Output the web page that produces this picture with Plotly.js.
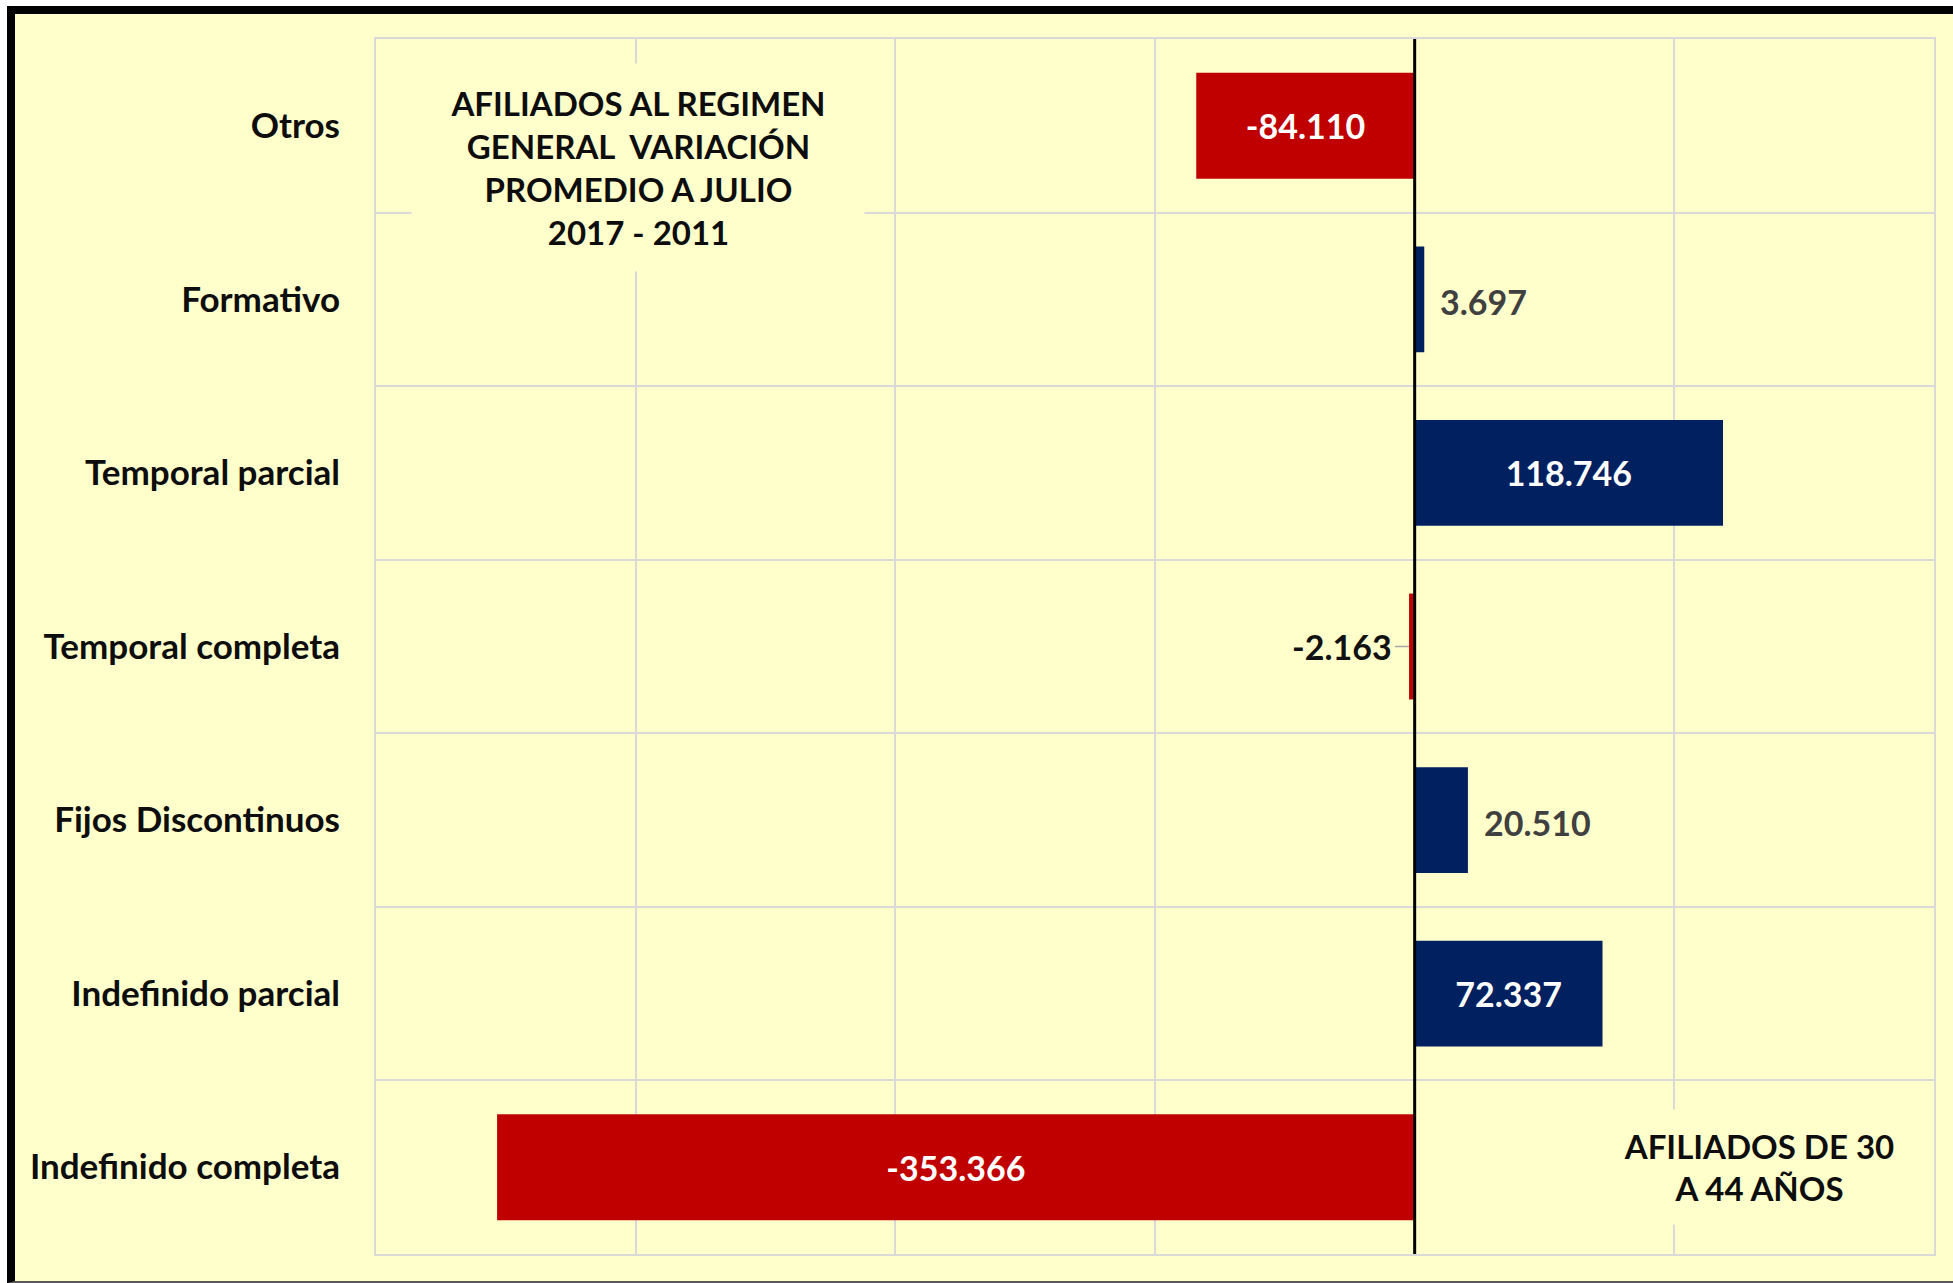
<!DOCTYPE html>
<html>
<head>
<meta charset="utf-8">
<script src="https://cdn.plot.ly/plotly-3.0.1.min.js"></script>
<style>
  html, body { margin:0; padding:0; width:1953px; height:1283px; background:#ffffff; overflow:hidden; }
  #frame { position:absolute; left:7px; top:6px; width:1946px; height:1277px; box-sizing:border-box;
           border-left:8px solid #000; border-top:8px solid #000; border-bottom:2px solid #595959; background:#FFFFCC; }
  #chart { position:absolute; left:0; top:0; width:1953px; height:1283px; }
</style>
</head>
<body>
<div id="frame"></div>
<div id="chart"></div>
<script>
// Categories (bottom to top)
const categories = ['Indefinido completa', 'Indefinido parcial', 'Fijos Discontinuos', 'Temporal completa', 'Temporal parcial', 'Formativo', 'Otros'];
// Variation values
const values = [-353366, 72337, 20510, -2163, 118746, 3697, -84110];
// Annotation texts
const chartTitle = 'AFILIADOS AL REGIMEN<br>GENERAL  VARIACIÓN<br>PROMEDIO A JULIO<br>2017 - 2011';
const subTitle = 'AFILIADOS DE 30<br>A 44 AÑOS';

const RED = '#C00000', NAVY = '#002060', BG = '#FFFFCC', GRID = '#D9D9D9';
const FONT = 'Lato, "Liberation Sans", sans-serif';
const LABEL_SIZE = 34;

function fmt(v) {
  const s = Math.abs(v).toString().replace(/\B(?=(\d{3})+(?!\d))/g, '.');
  return (v < 0 ? '-' : '') + s;
}

const labels = values.map(fmt);
const colors = values.map(v => v < 0 ? RED : NAVY);
// large bars carry their label inside; small ones get an outside label
const isInside = values.map(v => Math.abs(v) >= 50000);

const trace = {
  type: 'bar',
  orientation: 'h',
  x: values,
  y: categories,
  width: 0.61,
  marker: { color: colors, line: { width: 0 } },
  text: labels,
  textposition: isInside.map(b => b ? 'inside' : 'none'),
  insidetextanchor: 'middle',
  insidetextfont: { family: FONT, size: LABEL_SIZE, color: '#ffffff', weight: 'bold' },
  cliponaxis: false,
  hoverinfo: 'skip'
};

const outsideAnns = [];
values.forEach((v, i) => {
  if (isInside[i]) return;
  if (v >= 0) {
    outsideAnns.push({ xref: 'x', yref: 'y', x: v, y: categories[i], xanchor: 'left', yanchor: 'middle',
      xshift: 14, yshift: -2, text: labels[i], showarrow: false,
      font: { family: FONT, size: LABEL_SIZE, color: '#404040', weight: 'bold' } });
  } else {
    outsideAnns.push({ xref: 'x', yref: 'y', x: v, y: categories[i], xanchor: 'right', yanchor: 'middle',
      text: labels[i], showarrow: true, arrowhead: 0, arrowwidth: 1.5, arrowcolor: '#A6A6A6',
      ax: -14, ay: 0, standoff: 0, startstandoff: 0, borderpad: 2,
      font: { family: FONT, size: LABEL_SIZE, color: '#111111', weight: 'bold' } });
  }
});

const layout = {
  width: 1953, height: 1283,
  margin: { l: 376, r: 19, t: 39, b: 29, pad: 0 },
  paper_bgcolor: 'rgba(0,0,0,0)',
  plot_bgcolor: BG,
  showlegend: false,
  font: { family: FONT, size: 34, color: '#0d0d0d', weight: 'bold' },
  xaxis: {
    range: [-400000, 200000],
    dtick: 100000,
    tick0: 0,
    showticklabels: false,
    ticks: '',
    showgrid: true,
    gridcolor: GRID,
    gridwidth: 2,
    zeroline: false,
    showline: true,
    mirror: true,
    linecolor: GRID,
    linewidth: 2,
    fixedrange: true
  },
  yaxis: {
    type: 'category',
    categoryorder: 'array',
    categoryarray: categories,
    tickson: 'boundaries',
    ticks: '',
    showgrid: true,
    gridcolor: GRID,
    gridwidth: 2,
    showline: true,
    mirror: true,
    linecolor: GRID,
    linewidth: 2,
    ticklabelstandoff: 27,
    tickfont: { family: FONT, size: 35, color: '#0d0d0d', weight: 'bold' },
    fixedrange: true
  },
  shapes: [
    { type: 'line', xref: 'x', yref: 'paper', x0: 0, x1: 0, y0: 0, y1: 1, layer: 'above',
      line: { color: '#000000', width: 3 } }
  ],
  annotations: [
    { xref: 'paper', yref: 'paper', x: 0.168, y: 0.894, xanchor: 'center', yanchor: 'middle',
      text: chartTitle, showarrow: false, align: 'center', bgcolor: BG, width: 450, height: 205,
      font: { family: FONT, size: 33, color: '#0d0d0d', weight: 'bold' } },
    { xref: 'paper', yref: 'paper', x: 0.8877, y: 0.0716, xanchor: 'center', yanchor: 'middle',
      text: subTitle, showarrow: false, align: 'center', bgcolor: BG, width: 300, height: 112,
      font: { family: FONT, size: 33, color: '#0d0d0d', weight: 'bold' } }
  ].concat(outsideAnns)
};

Plotly.newPlot('chart', [trace], layout, { staticPlot: true, displayModeBar: false });
</script>
</body>
</html>
